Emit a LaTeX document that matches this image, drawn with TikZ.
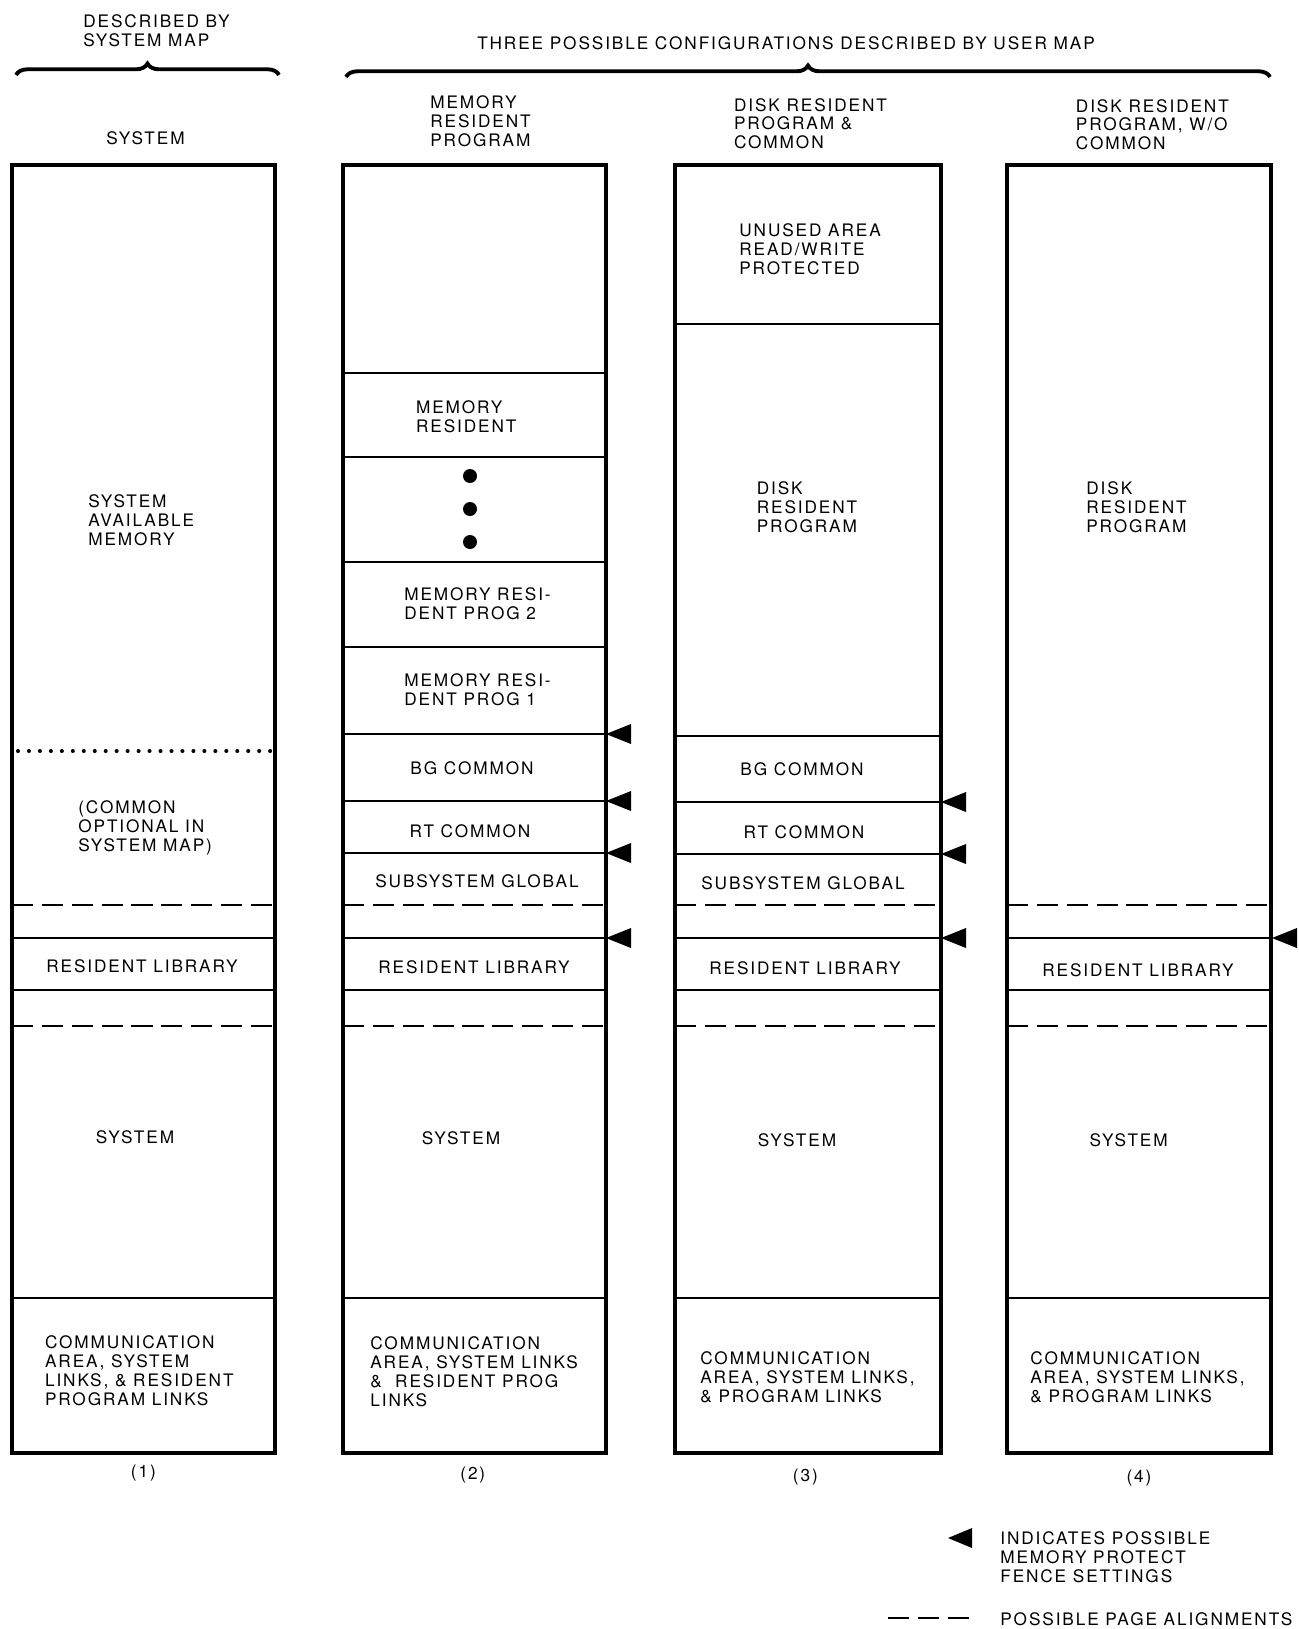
\documentclass[tikz,border=0pt]{standalone}
\usepackage{fontspec}
\setmainfont{TeX Gyre Heros}[LetterSpace=11]
\usetikzlibrary{decorations.pathreplacing}

\begin{document}
\begin{tikzpicture}[x=0.02cm, y=-0.02cm,
    every node/.style={inner sep=0pt, font=\fontsize{9.8}{10.8}\selectfont},
    txt/.style={anchor=west, align=left},
    frame/.style={line width=1.8pt},
    cut/.style={line width=1pt},
    page/.style={line width=1.1pt, dash pattern=on 12pt off 5pt},
    dots/.style={line width=2.3pt, line cap=round, dash pattern=on 0pt off 6.24pt},
    brc/.style={decorate, decoration={brace, amplitude=6.5pt}, line width=2.2pt}]
    \useasboundingbox (0,0) rectangle (1298,1629);
    % Headings
    \node[txt] (descsys) at (83,30.3) {DESCRIBED BY\\SYSTEM MAP};
    \node (threecfg) at (786,43.6) {THREE POSSIBLE CONFIGURATIONS DESCRIBED BY USER MAP};
    \draw[brc] (16,75) -- (279,75);        % system map brace
    \draw[brc] (346,77) -- (1270,77);      % user map brace
    \node (hdsys) at (145.5,138) {SYSTEM};
    \node[txt] (hdmem) at (430,121.6) {MEMORY\\RESIDENT\\PROGRAM};
    \node[txt] (hddisk) at (733.7,123.7) {DISK RESIDENT\\PROGRAM \&\\COMMON};
    \node[txt] (hdnocom) at (1075.6,124.7) {DISK RESIDENT\\PROGRAM, W/O\\COMMON};
    % The columns
    \foreach \l/\r in {12/275, 343/606, 675/941, 1007/1271} {
        \draw[frame] (\l,165) rectangle (\r,1453);
        \draw[page] (\l,905) -- (\r,905);
        \draw[cut] (\l,938) -- (\r,938);
        \draw[cut] (\l,990) -- (\r,990);
        \draw[page] (\l,1026) -- (\r,1026);
        \draw[cut] (\l,1298) -- (\r,1298);
    }
    \draw[dots] (18,751) -- (275,751);                                           % common optional
    \foreach \y in {373,457,562,647,734,801,853} \draw[cut] (343,\y) -- (606,\y); % column 2
    \foreach \y in {324,736,802,854} \draw[cut] (675,\y) -- (941,\y);             % column 3
    \foreach \y in {476,509,542} \fill (470,\y) circle[radius=7];                 % more programs
    % Fence settings
    \foreach \x/\y in {606/734, 606/801, 606/853, 606/938, 941/802, 941/854, 941/938, 1272/938}
        \fill (\x,\y) -- ++(25,-10) -- ++(0,20) -- cycle;
    % Column 1
    \node[txt] (sysavail) at (88,520.6) {SYSTEM\\AVAILABLE\\MEMORY};
    \node[txt] (comopt) at (78,827.5) {(COMMON\\OPTIONAL IN\\SYSTEM MAP)};
    \node (reslibA) at (142,966.5) {RESIDENT LIBRARY};
    \node (systemA) at (135,1137) {SYSTEM};
    \node[txt] (commA) at (44.7,1371) {COMMUNICATION\\AREA, SYSTEM\\LINKS, \& RESIDENT\\PROGRAM LINKS};
    % Column 2
    \node[txt] (memres) at (415.7,416.5) {MEMORY\\RESIDENT};
    \node[txt] (mrprogB) at (404,603.7) {MEMORY RESI-\\DENT PROG 2};
    \node[txt] (mrprogA) at (404,690) {MEMORY RESI-\\DENT PROG 1};
    \node (bgB) at (472,768) {BG COMMON};
    \node (rtB) at (470,831) {RT COMMON};
    \node (ssgB) at (477,881) {SUBSYSTEM GLOBAL};
    \node (reslibB) at (474,967.5) {RESIDENT LIBRARY};
    \node (systemB) at (461,1138) {SYSTEM};
    \node[txt] (commB) at (370,1372) {COMMUNICATION\\AREA, SYSTEM LINKS\\\&\ \ RESIDENT PROG\\LINKS};
    % Column 3
    \node[txt] (unused) at (739,249.5) {UNUSED AREA\\READ/WRITE\\PROTECTED};
    \node[txt] (diskC) at (756.5,507) {DISK\\RESIDENT\\PROGRAM};
    \node (bgC) at (802,769) {BG COMMON};
    \node (rtC) at (804,832) {RT COMMON};
    \node (ssgC) at (803,883) {SUBSYSTEM GLOBAL};
    \node (reslibC) at (805,968.5) {RESIDENT LIBRARY};
    \node (systemC) at (797,1140) {SYSTEM};
    \node[txt] (commC) at (700,1377) {COMMUNICATION\\AREA, SYSTEM LINKS,\\\& PROGRAM LINKS};
    % Column 4
    \node[txt] (diskD) at (1086,507) {DISK\\RESIDENT\\PROGRAM};
    \node (reslibD) at (1138,970.6) {RESIDENT LIBRARY};
    \node (systemD) at (1128.6,1140) {SYSTEM};
    \node[txt] (commD) at (1030,1377) {COMMUNICATION\\AREA, SYSTEM LINKS,\\\& PROGRAM LINKS};
    % Numbers
    \node (numA) at (143.4,1472.6) {(1)};
    \node (numB) at (472.8,1474.7) {(2)};
    \node (numC) at (805.4,1476.7) {(3)};
    \node (numD) at (1139,1477.7) {(4)};
    % Legend
    \fill (948,1538) -- (972,1528) -- (972,1548) -- cycle;
    \node[txt] (fencekey) at (1000,1557) {INDICATES POSSIBLE\\MEMORY PROTECT\\FENCE SETTINGS};
    \draw[page] (888,1618) -- (977,1618);
    \node[txt] (pagekey) at (1000,1619) {POSSIBLE PAGE ALIGNMENTS};
\end{tikzpicture}
\end{document}
